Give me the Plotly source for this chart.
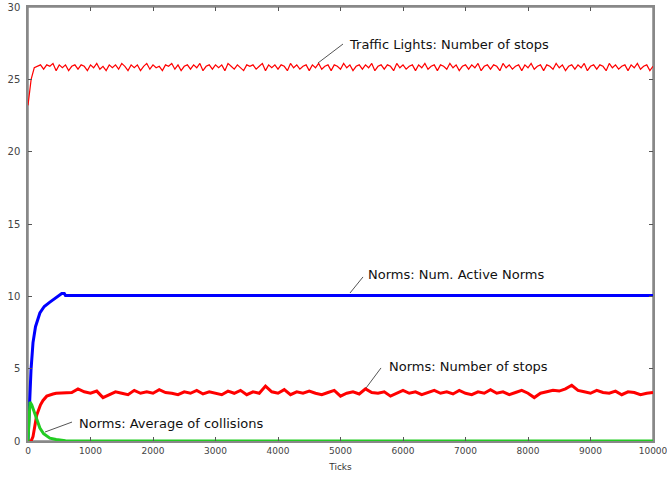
import plotly.graph_objects as go

# ---------------- data ----------------
tl_ticks = list(range(0, 10001, 50))
tl_stops = [
    23.2, 25.0, 25.8, 25.9, 26.0, 25.7, 26.0, 25.9, 26.1, 25.6,
    26.0, 25.8, 26.0, 25.6, 25.9, 26.0, 25.7, 26.0, 25.9, 25.6,
    26.0, 25.8, 26.1, 25.7, 25.9, 25.6, 26.0, 25.8, 26.0, 25.7,
    26.1, 25.9, 25.6, 26.0, 25.8, 26.0, 25.6, 25.9, 26.1, 25.7,
    26.0, 25.8, 25.9, 25.6, 26.0, 25.9, 26.1, 25.7, 26.0, 25.6,
    25.9, 26.0, 25.7, 26.0, 25.8, 26.1, 25.6, 25.9, 26.0, 25.7,
    26.0, 25.8, 26.0, 25.6, 26.1, 25.9, 25.7, 26.0, 25.8, 25.6,
    26.0, 25.9, 26.0, 25.7, 25.9, 26.1, 25.6, 26.0, 25.8, 26.0,
    25.7, 26.0, 25.9, 25.6, 26.1, 25.8, 26.0, 25.7, 25.9, 26.0,
    25.6, 26.0, 25.8, 26.1, 25.7, 25.9, 26.0, 25.6, 26.0, 25.9,
    25.7, 26.1, 25.8, 26.0, 25.6, 25.9, 26.0, 25.7, 26.0, 25.8,
    26.1, 25.6, 25.9, 26.0, 25.7, 26.0, 25.9, 25.6, 26.1, 25.8,
    26.0, 25.7, 25.9, 26.0, 25.6, 26.0, 25.8, 26.1, 25.7, 25.9,
    26.0, 25.6, 26.0, 25.9, 25.7, 26.1, 25.8, 26.0, 25.6, 25.9,
    26.0, 25.7, 26.0, 25.8, 26.1, 25.6, 25.9, 26.0, 25.7, 26.0,
    25.9, 25.6, 26.1, 25.8, 26.0, 25.7, 25.9, 26.0, 25.6, 26.0,
    25.8, 26.1, 25.7, 25.9, 26.0, 25.6, 26.0, 25.9, 25.7, 26.1,
    25.8, 26.0, 25.6, 25.9, 26.0, 25.7, 26.0, 25.8, 26.1, 25.6,
    25.9, 26.0, 25.7, 26.0, 25.9, 25.6, 26.1, 25.8, 26.0, 25.7,
    25.9, 26.0, 25.6, 26.0, 25.8, 26.1, 25.7, 25.9, 26.0, 25.6,
    25.9,
]

active_ticks = [0, 15, 32, 48, 80, 120, 190, 260, 350, 430, 510, 540, 580, 600, 10000]
active_norms = [0, 1.5, 2.8, 4.9, 6.8, 7.9, 8.85, 9.3, 9.6, 9.85, 10.05, 10.2, 10.2, 10.05, 10.05]

ns_ticks = [0, 50, 80, 100, 140, 200, 240, 300, 350, 400, 450, 500] + list(range(600, 10001, 100))
ns_stops = [
    0, 0, 0.3, 0.8, 1.8, 2.5, 2.8, 3.1, 3.2, 3.25, 3.3, 3.3,
    3.3, 3.35, 3.6, 3.4, 3.3, 3.45, 3.0, 3.2, 3.4, 3.3,
    3.2, 3.5, 3.3, 3.4, 3.3, 3.55, 3.35, 3.3, 3.2, 3.4,
    3.3, 3.5, 3.25, 3.4, 3.3, 3.2, 3.45, 3.3, 3.5, 3.2,
    3.4, 3.3, 3.8, 3.4, 3.3, 3.55, 3.2, 3.4, 3.3, 3.45,
    3.3, 3.2, 3.35, 3.5, 3.1, 3.3, 3.4, 3.25, 3.6, 3.35,
    3.3, 3.4, 3.1, 3.3, 3.5, 3.3, 3.4, 3.2, 3.35, 3.5,
    3.3, 3.4, 3.25, 3.5, 3.3, 3.2, 3.4, 3.3, 3.55, 3.3,
    3.4, 3.2, 3.35, 3.5, 3.3, 3.0, 3.3, 3.4, 3.5, 3.45,
    3.6, 3.85, 3.5, 3.4, 3.3, 3.5, 3.35, 3.3, 3.45, 3.2,
    3.4, 3.35, 3.2, 3.3, 3.35,
]

coll_ticks = [0, 15, 32, 60, 112, 150, 190, 250, 350, 450, 510, 600, 700, 10000]
collisions = [0, 1.6, 2.7, 2.5, 1.8, 1.3, 0.9, 0.5, 0.2, 0.1, 0.05, 0.02, 0.0, 0.0]

x_tick_vals = list(range(0, 10001, 1000))
x_tick_text = [str(v) for v in x_tick_vals]
y_tick_vals = [0, 5, 10, 15, 20, 25, 30]

labels = [
    # text, leader start (x, y), leader end (x, y), text anchor (x, y)
    ("Traffic Lights: Number of stops", (4640, 26.13), (5040, 27.44), (5104, 27.44)),
    ("Norms: Num. Active Norms", (5152, 10.23), (5360, 11.34), (5408, 11.54)),
    ("Norms: Number of stops", (5408, 3.66), (5648, 5.05), (5744, 5.12)),
    ("Norms: Average of collisions", (272, 0.62), (704, 1.31), (784, 1.24)),
]

assert len(tl_ticks) == len(tl_stops)
assert len(ns_ticks) == len(ns_stops)

# ---------------- figure ----------------
fig = go.Figure()
fig.add_trace(go.Scatter(x=tl_ticks, y=tl_stops, mode="lines",
                         line=dict(color="#ff0000", width=1.2), name="Traffic Lights: Number of stops"))
fig.add_trace(go.Scatter(x=active_ticks, y=active_norms, mode="lines",
                         line=dict(color="#0000ff", width=3), name="Norms: Num. Active Norms"))
fig.add_trace(go.Scatter(x=ns_ticks, y=ns_stops, mode="lines",
                         line=dict(color="#ff0000", width=3), name="Norms: Number of stops"))
fig.add_trace(go.Scatter(x=coll_ticks, y=collisions, mode="lines",
                         line=dict(color="#22cc22", width=3), name="Norms: Average of collisions"))

for text, (x0, y0), (x1, y1), (tx, ty) in labels:
    fig.add_shape(type="line", x0=x0, y0=y0, x1=x1, y1=y1, xref="x", yref="y",
                  line=dict(color="#555555", width=1))
    fig.add_annotation(x=tx, y=ty, xref="x", yref="y", text=text, showarrow=False,
                       xanchor="left", yanchor="middle",
                       font=dict(family="DejaVu Sans", size=13, color="#111111"))

# plot frame
fig.add_shape(type="rect", xref="paper", yref="paper", x0=0, y0=0, x1=1, y1=1,
              line=dict(color="#888888", width=1.5), layer="below")

axis_common = dict(showgrid=False, zeroline=False, showline=True, linecolor="#888888",
                   linewidth=1.5, mirror="ticks", ticks="inside", ticklen=4,
                   tickcolor="#555555", tickwidth=1, automargin=False,
                   ticklabeloverflow="allow")

fig.update_layout(
    width=667, height=485,
    margin=dict(l=28, r=14, t=7, b=44),
    plot_bgcolor="white", paper_bgcolor="white",
    showlegend=False,
    xaxis=dict(range=[0, 10000], tickmode="array", tickvals=x_tick_vals, ticktext=x_tick_text,
               tickfont=dict(family="DejaVu Sans", size=9, color="#444444"),
               title=dict(text="Ticks", font=dict(family="DejaVu Sans", size=9, color="#333333"),
                          standoff=9),
               **axis_common),
    yaxis=dict(range=[0, 30], tickvals=y_tick_vals, ticklabelstandoff=4,
               tickfont=dict(family="DejaVu Sans", size=10, color="#444444"),
               **axis_common),
)

fig.write_html("out.html", config={"displayModeBar": False},
               post_script="document.body.style.margin='0px';")
